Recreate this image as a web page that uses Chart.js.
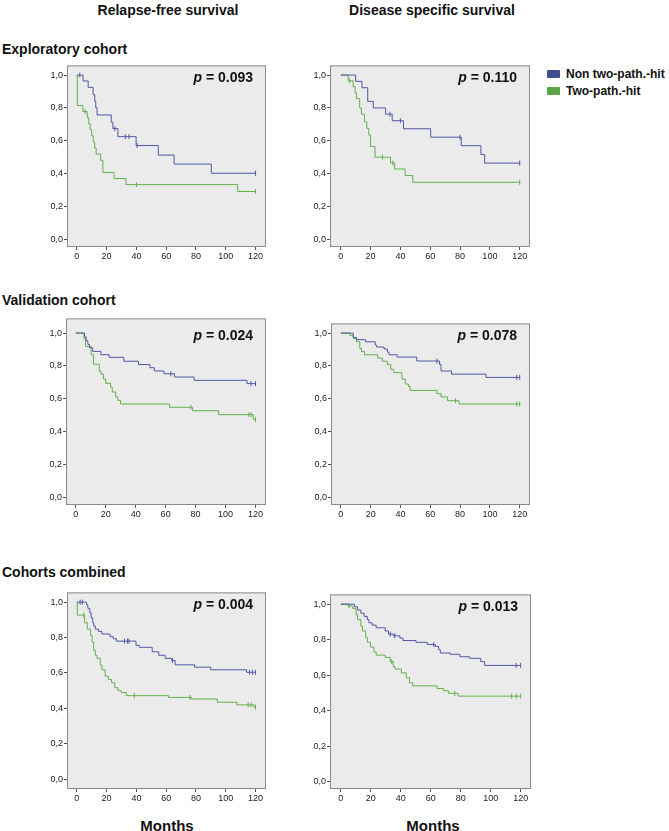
<!DOCTYPE html>
<html lang="en">
<head>
<meta charset="UTF-8">
<title>Kaplan-Meier survival curves</title>
<script src="https://cdn.jsdelivr.net/npm/chart.js"></script>
<style>
  body { margin: 0; background: #fff; font-family: "Liberation Sans", Arial, sans-serif; }
  #page { position: relative; width: 669px; height: 831px; overflow: hidden; }
  .t { position: absolute; font-weight: bold; color: #111; white-space: nowrap; line-height: 1; }
  .c { transform: translate(-50%, -50%); }
  .l { transform: translate(0, -50%); }
  .sw { position: absolute; width: 13px; height: 8px; border-radius: 1px; }
</style>
</head>
<body>
<div id="page">
  <div class="t c" style="left:168px; top:10px; font-size:14px;">Relapse-free survival</div>
  <div class="t c" style="left:432px; top:10px; font-size:14px;">Disease specific survival</div>
  <div class="t l" style="left:2px; top:49px; font-size:14px;">Exploratory cohort</div>
  <div class="t l" style="left:2px; top:300px; font-size:14px;">Validation cohort</div>
  <div class="t l" style="left:2px; top:572px; font-size:14px;">Cohorts combined</div>
  <div class="t c" style="left:167px; top:825px; font-size:15px;">Months</div>
  <div class="t c" style="left:433px; top:825px; font-size:15px;">Months</div>

  <div class="sw" style="left:547px; top:70px; background:#3e4f8d;"></div>
  <div class="t l" style="left:566px; top:74px; font-size:12px;">Non two-path.-hit</div>
  <div class="sw" style="left:547px; top:87px; background:#5aa646;"></div>
  <div class="t l" style="left:566px; top:91px; font-size:12px;">Two-path.-hit</div>
</div>

<script>
// ---- data: [months, survival after event] for each step, censor times in months ----
const xTicks = [0, 20, 40, 60, 80, 100, 120];
const yTicks = [0, 0.2, 0.4, 0.6, 0.8, 1.0];
const pValues = ['0.093', '0.110', '0.024', '0.078', '0.004', '0.013'];

// exploratory cohort, relapse-free survival
const expRfsNon = [[4.2,0.964],[7.6,0.925],[10.9,0.881],[12,0.842],[12.7,0.802],[13.6,0.757],[23.1,0.713],[24.2,0.674],[27.6,0.625],[39.8,0.571],[54.7,0.513],[65.3,0.458],[90.3,0.402]];
const expRfsNonCens = [2, 25.5, 32.5, 35, 40.5, 120];
const expRfsTwo = [[0.3,0.815],[4,0.778],[7,0.741],[8,0.704],[9,0.667],[10,0.630],[11,0.593],[12,0.556],[13,0.519],[16,0.481],[17.5,0.407],[25,0.370],[33,0.333],[108,0.291]];
const expRfsTwoCens = [5.5, 40, 120];

// exploratory cohort, disease specific survival
const expDssNon = [[10,0.962],[14.2,0.923],[18.1,0.840],[21.8,0.800],[30.1,0.762],[34.5,0.722],[42.1,0.673],[60.3,0.622],[80.8,0.570],[94,0.516],[96.5,0.464]];
const expDssNonCens = [33, 40, 80, 120];
const expDssTwo = [[5,0.965],[8.3,0.930],[9.6,0.893],[10.5,0.857],[12.7,0.800],[13.8,0.762],[15.9,0.715],[17.5,0.675],[18.8,0.635],[20,0.565],[23,0.500],[33.4,0.465],[36.2,0.428],[43.2,0.388],[48.3,0.347]];
const expDssTwoCens = [6, 28, 35, 120];

// validation cohort, relapse-free survival
const valRfsNon = [[5.9,0.976],[7,0.952],[8.1,0.930],[9.2,0.910],[11.3,0.888],[16.8,0.868],[22.3,0.852],[32.1,0.828],[41.9,0.808],[49.5,0.789],[52.4,0.769],[58.9,0.752],[65.9,0.732],[79,0.712],[114.3,0.692]];
const valRfsNonCens = [63.5, 117, 120];
const valRfsTwo = [[5.5,0.966],[6.5,0.917],[10.3,0.868],[11.8,0.810],[15.7,0.769],[16.8,0.750],[18.5,0.720],[20,0.694],[23.3,0.670],[24.4,0.641],[26.6,0.611],[28.1,0.590],[29.9,0.568],[62.6,0.548],[77.9,0.527],[95.4,0.503],[118.5,0.473]];
const valRfsTwoCens = [76.8, 115.5, 117, 120];

// validation cohort, disease specific survival
const valDssNon = [[8.3,0.974],[10.5,0.960],[16.6,0.947],[23.1,0.927],[24,0.915],[29,0.903],[31.2,0.884],[32.3,0.868],[37.8,0.854],[50.9,0.830],[66.2,0.809],[67.2,0.769],[74.2,0.750],[97.4,0.730]];
const valDssNonCens = [64.5, 118, 120];
const valDssTwo = [[6.1,0.986],[8.3,0.966],[10.5,0.947],[12.7,0.907],[13.8,0.888],[15.9,0.868],[24.7,0.848],[27.9,0.828],[31.2,0.809],[33.4,0.779],[35.6,0.759],[41,0.720],[43.2,0.690],[45.4,0.675],[46.5,0.651],[64.4,0.631],[67.2,0.611],[71.6,0.588],[79.3,0.568]];
const valDssTwoCens = [77, 118, 120];

// cohorts combined, relapse-free survival
const comRfsNon = [[6.5,0.985],[7.4,0.965],[8.7,0.940],[9.6,0.912],[10.7,0.884],[11.3,0.866],[12.4,0.848],[14.6,0.835],[16.8,0.820],[22.3,0.805],[24.4,0.793],[26.6,0.780],[39.7,0.756],[41.9,0.745],[50.6,0.720],[55,0.700],[59.3,0.683],[63.7,0.670],[66,0.646],[79,0.633],[89.9,0.618],[113.9,0.604]];
const comRfsNonCens = [2.2, 3.7, 32, 34, 35, 64.2, 116, 118, 120];
const comRfsTwo = [[0.3,0.927],[5.2,0.884],[7,0.848],[9.2,0.811],[10.3,0.774],[11.3,0.728],[12.4,0.700],[13.5,0.683],[15.7,0.646],[16.8,0.618],[19,0.582],[21.2,0.563],[23.3,0.545],[25.5,0.517],[27.7,0.500],[29.9,0.490],[33.2,0.472],[61.5,0.462],[77,0.453],[94.3,0.435],[107.4,0.420],[119,0.407]];
const comRfsTwoCens = [4.8, 38.6, 76, 115, 117, 120];

// cohorts combined, disease specific survival
const comDssNon = [[9.1,0.985],[11.2,0.967],[13.4,0.949],[15.6,0.931],[17.7,0.913],[18.8,0.895],[21,0.882],[23.6,0.867],[29.6,0.849],[31.8,0.831],[35,0.822],[39.4,0.809],[41.5,0.795],[50.2,0.785],[57.7,0.773],[63.1,0.762],[65.3,0.744],[66.4,0.725],[72.9,0.718],[79.4,0.704],[85.8,0.695],[93.4,0.676],[96,0.655]];
const comDssNonCens = [33, 36, 62, 117, 120];
const comDssTwo = [[4.8,0.990],[8,0.976],[10.2,0.940],[11.2,0.913],[13.4,0.876],[14.5,0.849],[16.6,0.813],[17.7,0.785],[19.9,0.758],[22.1,0.731],[23.6,0.713],[29.6,0.700],[32.9,0.676],[35,0.649],[36.1,0.635],[40.4,0.613],[43.7,0.585],[45.8,0.558],[48,0.540],[64.2,0.525],[68.5,0.513],[71.8,0.498],[78.3,0.482]];
const comDssTwoCens = [5.5, 34, 76, 114, 117, 120];

// ---- layout ----
const BLUE = '#4f58a8';
const GREEN = '#63b04b';
const YW = 35;   // room for y tick labels
const XH = 22;   // room for x tick labels

// box = plot frame [left, top, right, bottom]; x/y = axis ranges
const panels = [
  { box: [67, 60, 270, 247],  x: [-6.6, 127], y: [-0.047, 1.059], non: expRfsNon, nonC: expRfsNonCens, two: expRfsTwo, twoC: expRfsTwoCens },
  { box: [330, 60, 534, 247], x: [-7.2, 126.9], y: [-0.047, 1.059], non: expDssNon, nonC: expDssNonCens, two: expDssTwo, twoC: expDssTwoCens },
  { box: [66, 313, 270, 505], x: [-6.5, 127], y: [-0.047, 1.089], non: valRfsNon, nonC: valRfsNonCens, two: valRfsTwo, twoC: valRfsTwoCens },
  { box: [331, 318, 534, 505], x: [-6.6, 126.9], y: [-0.047, 1.059], non: valDssNon, nonC: valDssNonCens, two: valDssTwo, twoC: valDssTwoCens },
  { box: [67, 587, 270, 789], x: [-6.6, 127], y: [-0.055, 1.055], non: comRfsNon, nonC: comRfsNonCens, two: comRfsTwo, twoC: comRfsTwoCens },
  { box: [330, 589, 535, 789], x: [-7.2, 126.9], y: [-0.041, 1.055], non: comDssNon, nonC: comDssNonCens, two: comDssTwo, twoC: comDssTwoCens }
];

function survAt(steps, t) {
  let s = 1;
  steps.forEach(([tt, v]) => { if (tt <= t) s = v; });
  return s;
}

function kmLine(steps, cens, color) {
  const end = Math.max(...cens, steps[steps.length - 1][0]);
  const pts = [{ x: 0, y: 1 }];
  steps.forEach(([t, s]) => pts.push({ x: t, y: s }));
  pts.push({ x: end, y: steps[steps.length - 1][1] });
  return { data: pts, stepped: true, borderColor: color, borderWidth: 1, pointRadius: 0, fill: false };
}

function censorSet(steps, cens, color) {
  return {
    data: cens.map(t => ({ x: t, y: survAt(steps, t) })),
    showLine: false, pointStyle: 'line', rotation: 90, pointRadius: 2.5,
    borderColor: color, borderWidth: 1
  };
}

const frame = {
  id: 'frame',
  beforeDraw(chart) {
    const a = chart.chartArea, ctx = chart.ctx;
    ctx.save();
    ctx.fillStyle = '#ebebeb';
    ctx.fillRect(a.left, a.top, a.right - a.left, a.bottom - a.top);
    ctx.restore();
  },
  afterDraw(chart) {
    const a = chart.chartArea, ctx = chart.ctx;
    ctx.save();
    ctx.strokeStyle = '#8a8a8a';
    ctx.lineWidth = 1;
    ctx.strokeRect(a.left + 0.5, a.top + 0.5, a.right - a.left - 1, a.bottom - a.top - 1);
    // p value
    const txt = ' = ' + chart.options.pText;
    const y = chart.scales.y.getPixelForValue(1) + 3;
    ctx.fillStyle = '#111';
    ctx.textBaseline = 'middle';
    ctx.font = 'bold 14px "Liberation Sans", Arial';
    const w2 = ctx.measureText(txt).width;
    ctx.font = 'italic bold 14px "Liberation Sans", Arial';
    const w1 = ctx.measureText('p').width;
    const x0 = a.right - 13 - w1 - w2;
    ctx.fillText('p', x0, y);
    ctx.font = 'bold 14px "Liberation Sans", Arial';
    ctx.fillText(txt, x0 + w1, y);
    ctx.restore();
  }
};

const tickFont = { family: '"Liberation Sans", Arial', size: 9 };
const page = document.getElementById('page');

panels.forEach((p, i) => {
  const canvas = document.createElement('canvas');
  const left = p.box[0] - YW, top = p.box[1] - 1;
  const w = p.box[2] - left + 1, h = p.box[3] - top + XH;
  canvas.width = w;
  canvas.height = h;
  canvas.style.cssText = `position:absolute;left:${left}px;top:${top}px;width:${w}px;height:${h}px;`;
  page.appendChild(canvas);

  new Chart(canvas, {
    type: 'line',
    data: {
      datasets: [
        kmLine(p.non, p.nonC, BLUE),
        kmLine(p.two, p.twoC, GREEN),
        censorSet(p.non, p.nonC, BLUE),
        censorSet(p.two, p.twoC, GREEN)
      ]
    },
    options: {
      pText: pValues[i],
      responsive: false,
      animation: false,
      layout: { padding: { top: 1, right: 1, left: 0, bottom: 0 } },
      plugins: { legend: { display: false }, tooltip: { enabled: false } },
      scales: {
        x: {
          type: 'linear', min: p.x[0], max: p.x[1],
          afterBuildTicks: s => { s.ticks = xTicks.map(v => ({ value: v })); },
          afterFit: s => { s.height = XH; },
          ticks: { font: tickFont, color: '#222', padding: 1, maxRotation: 0, autoSkip: false },
          grid: { drawOnChartArea: false, tickLength: 3, color: '#555' },
          border: { display: false }
        },
        y: {
          type: 'linear', min: p.y[0], max: p.y[1],
          afterBuildTicks: s => { s.ticks = yTicks.map(v => ({ value: v })); },
          afterFit: s => { s.width = YW; },
          ticks: { font: tickFont, color: '#222', padding: 1, callback: v => v.toFixed(1).replace('.', ',') },
          grid: { drawOnChartArea: false, tickLength: 3, color: '#555' },
          border: { display: false }
        }
      }
    },
    plugins: [frame]
  });
});
</script>
</body>
</html>
